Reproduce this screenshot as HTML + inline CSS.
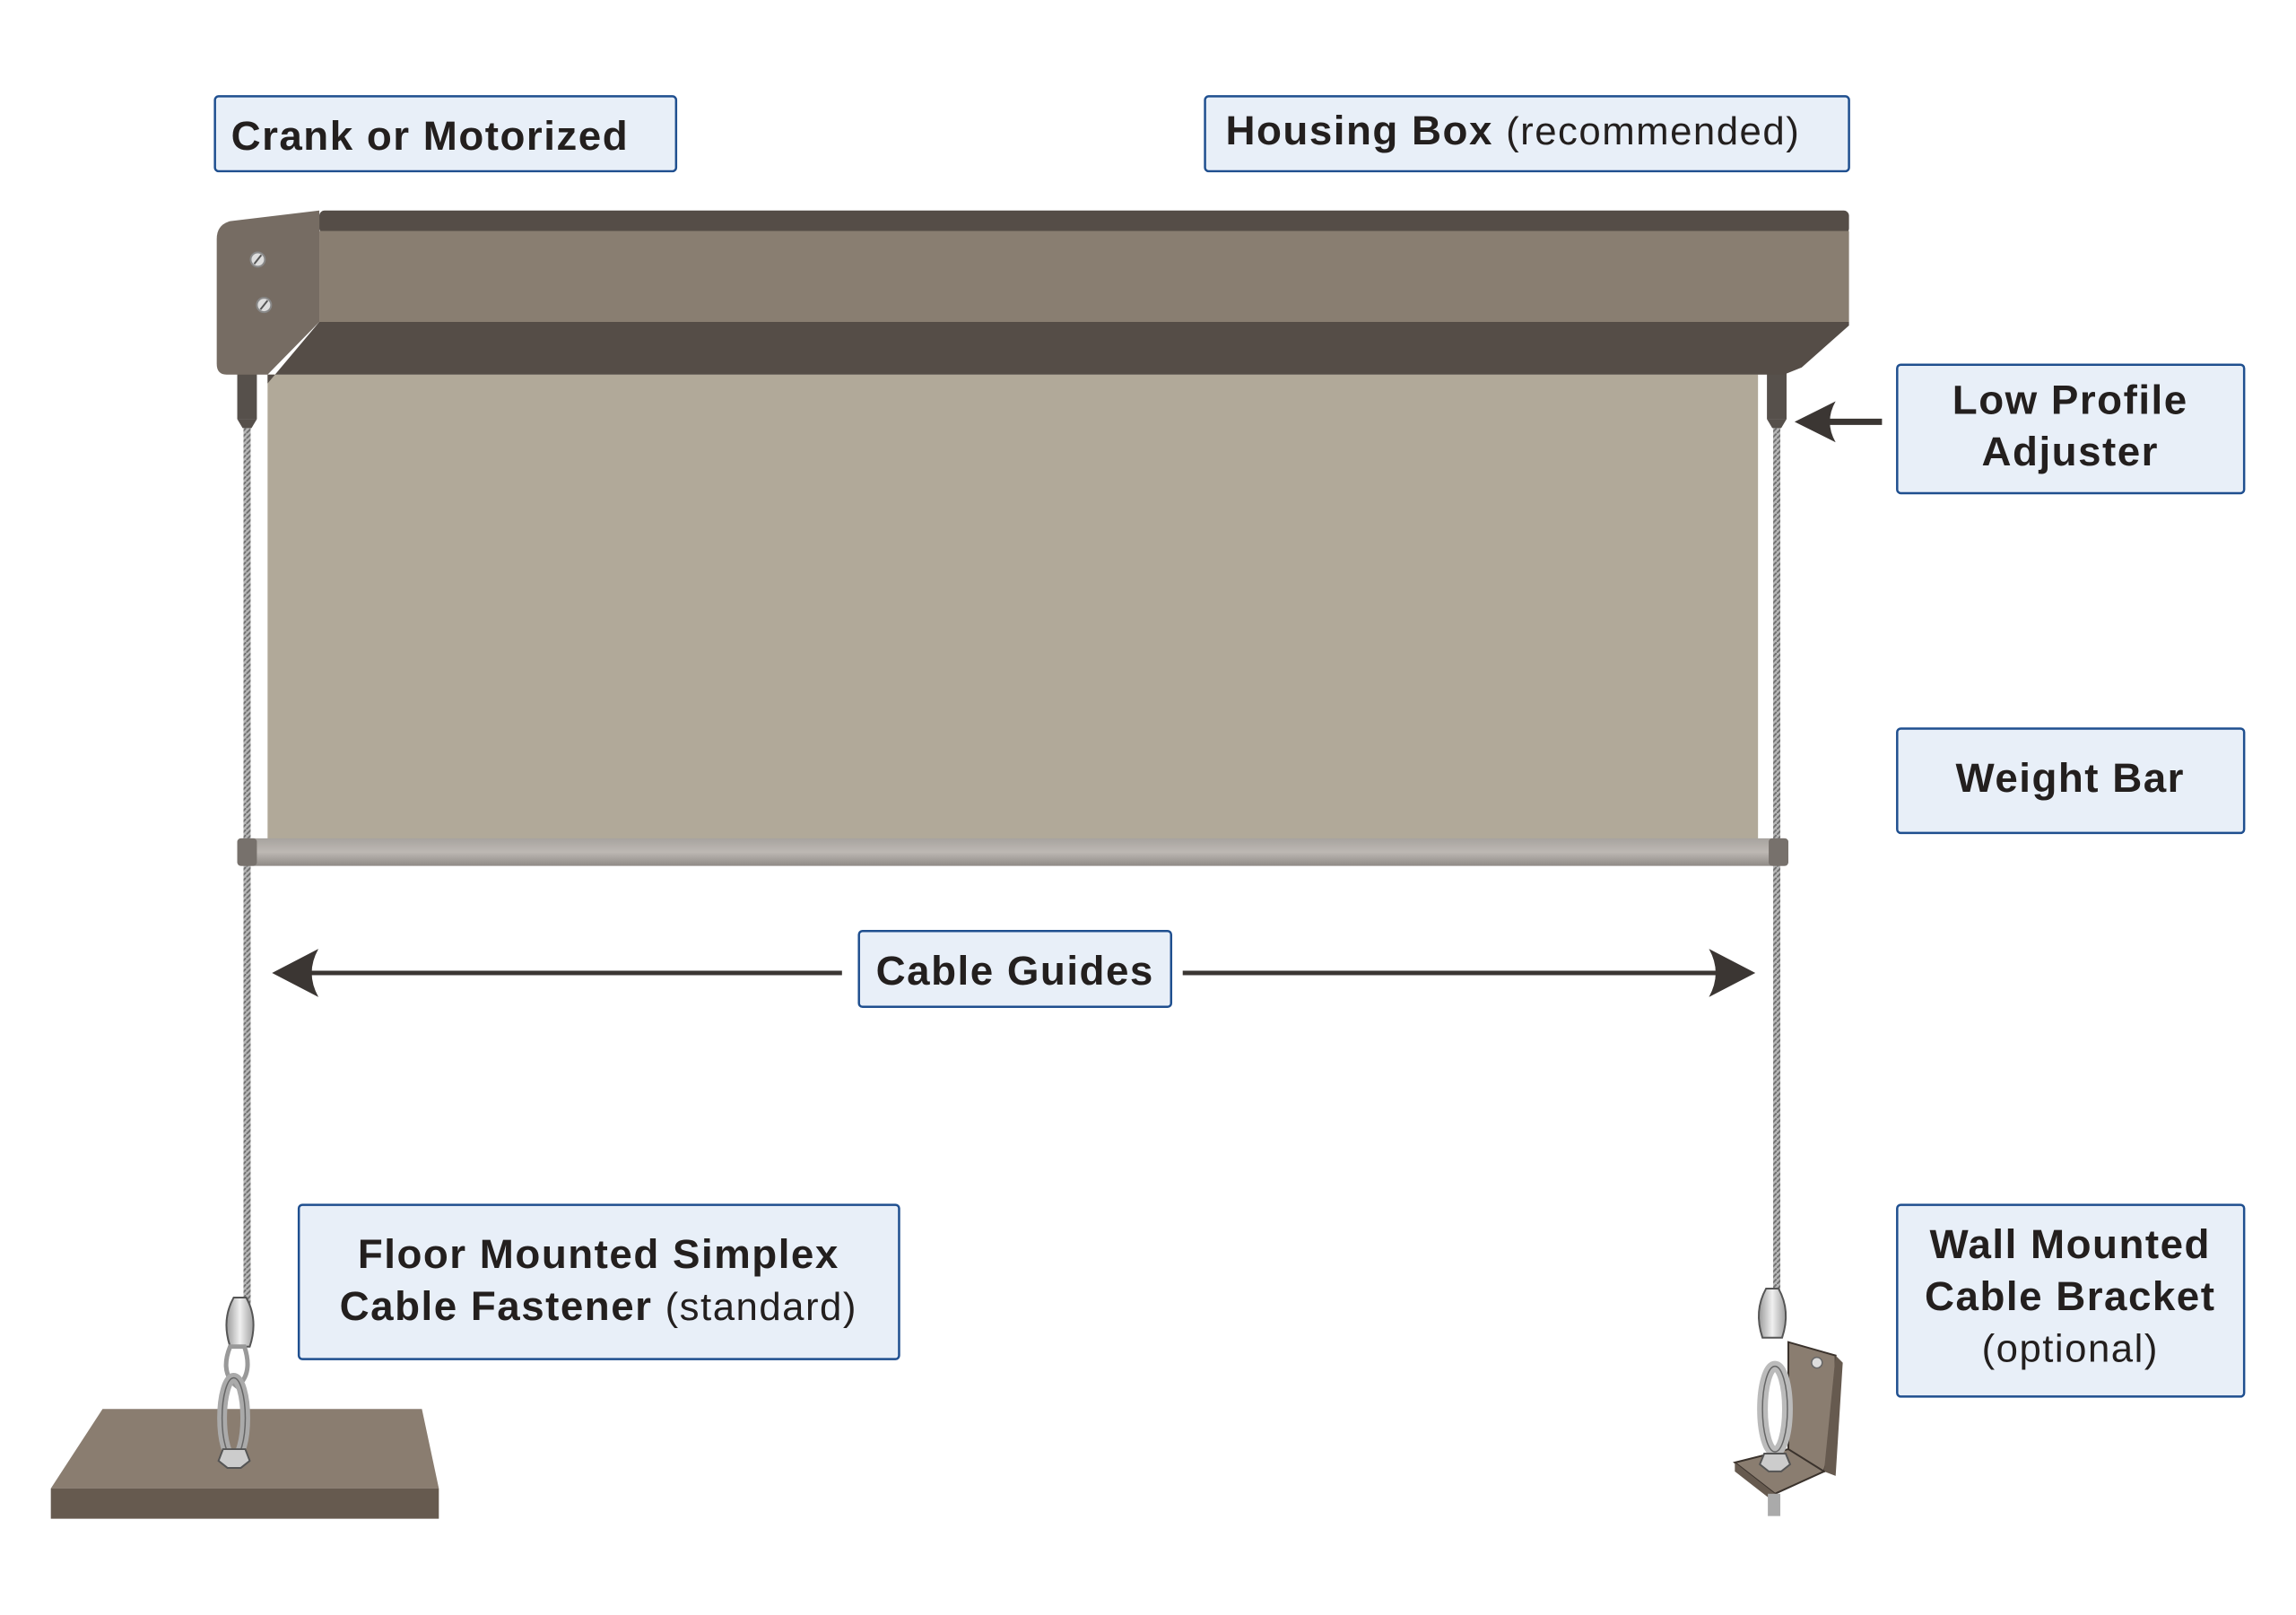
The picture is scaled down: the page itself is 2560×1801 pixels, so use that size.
<!DOCTYPE html>
<html><head><meta charset="utf-8"><style>
html,body{margin:0;padding:0;background:#fff;}
svg{display:block;}
text{font-family:"Liberation Sans",sans-serif;font-weight:bold;fill:#231f1e;letter-spacing:1.5px;}
.n{font-weight:normal;}
</style></head><body>
<svg width="2560" height="1801" viewBox="0 0 2560 1801" xmlns="http://www.w3.org/2000/svg">
<defs>
<linearGradient id="wb" x1="0" y1="0" x2="0" y2="1">
<stop offset="0" stop-color="#a7a39f"/><stop offset="0.5" stop-color="#bdb8b3"/><stop offset="1" stop-color="#8f8a86"/></linearGradient>
<linearGradient id="met" x1="0" y1="0" x2="1" y2="0">
<stop offset="0" stop-color="#9a9a9a"/><stop offset="0.5" stop-color="#f0f0f0"/><stop offset="1" stop-color="#a0a0a0"/></linearGradient>
<pattern id="cab" width="6" height="6" patternUnits="userSpaceOnUse"><rect width="6" height="6" fill="#b8b8b8"/><line x1="0" y1="6" x2="6" y2="0" stroke="#707070" stroke-width="2"/></pattern>
</defs>
<g transform="scale(0.9945)">
<!-- labels -->
<rect x="241" y="108" width="517" height="84" rx="4" fill="#e8eff8" stroke="#1f4f8f" stroke-width="2.5"/>
<text x="259" y="168" font-size="46">Crank or Motorized</text>

<rect x="1351" y="108" width="722" height="84" rx="4" fill="#e8eff8" stroke="#1f4f8f" stroke-width="2.5"/>
<text x="1374" y="162" font-size="46">Housing Box <tspan class="n" font-size="44">(recommended)</tspan></text>

<rect x="2127" y="409" width="389" height="144" rx="4" fill="#e8eff8" stroke="#1f4f8f" stroke-width="2.5"/>
<text x="2321" y="464" font-size="46" text-anchor="middle">Low Profile</text>
<text x="2321" y="522" font-size="46" text-anchor="middle">Adjuster</text>

<rect x="2127" y="817" width="389" height="117" rx="4" fill="#e8eff8" stroke="#1f4f8f" stroke-width="2.5"/>
<text x="2321" y="888" font-size="46" text-anchor="middle">Weight Bar</text>

<rect x="963" y="1044" width="350" height="85" rx="4" fill="#e8eff8" stroke="#1f4f8f" stroke-width="2.5"/>
<text x="1138" y="1104" font-size="46" text-anchor="middle">Cable Guides</text>

<rect x="335" y="1351" width="673" height="173" rx="4" fill="#e8eff8" stroke="#1f4f8f" stroke-width="2.5"/>
<text x="671" y="1422" font-size="46" text-anchor="middle">Floor Mounted Simplex</text>
<text x="671" y="1480" font-size="46" text-anchor="middle">Cable Fastener <tspan class="n" font-size="44">(standard)</tspan></text>

<rect x="2127" y="1351" width="389" height="215" rx="4" fill="#e8eff8" stroke="#1f4f8f" stroke-width="2.5"/>
<text x="2321" y="1411" font-size="46" text-anchor="middle">Wall Mounted</text>
<text x="2321" y="1469" font-size="46" text-anchor="middle">Cable Bracket</text>
<text x="2321" y="1527" font-size="44" text-anchor="middle" class="n">(optional)</text>

<!-- fabric -->
<rect x="300" y="420" width="1671" height="522" fill="#b1a999"/>
<!-- cables -->
<rect x="273" y="470" width="8" height="1000" fill="url(#cab)"/>
<rect x="1988" y="470" width="8" height="980" fill="url(#cab)"/>
<!-- adjusters -->
<rect x="266" y="418" width="22" height="52" fill="#56504b"/>
<rect x="1981" y="418" width="22" height="52" fill="#56504b"/>
<polygon points="266,470 288,470 282,480 272,480" fill="#56504b"/>
<polygon points="1981,470 2003,470 1997,480 1987,480" fill="#56504b"/>

<!-- housing -->
<rect x="358" y="236" width="1715" height="26" rx="6" fill="#554d47"/>
<rect x="358" y="259" width="1715" height="102" fill="#897e71"/>
<polygon points="358,361 2073,361 2073,365 2020,412 2000,420 300,420 300,430 358,361" fill="#554d47"/>
<path d="M258,248 L358,236 L358,361 L300,420 L254,420 Q243,420 243,408 L243,268 Q243,252 258,248 Z" fill="#766c63"/>
<circle cx="289" cy="291" r="8" fill="#ddd" stroke="#888" stroke-width="2"/><line x1="285" y1="296" x2="293" y2="286" stroke="#555" stroke-width="2"/>
<circle cx="296" cy="342" r="8" fill="#ddd" stroke="#888" stroke-width="2"/><line x1="292" y1="347" x2="300" y2="337" stroke="#555" stroke-width="2"/>

<!-- weight bar -->
<rect x="266" y="940" width="1739" height="31" rx="5" fill="url(#wb)"/>
<rect x="266" y="940" width="22" height="31" rx="4" fill="#77716c"/>
<rect x="1983" y="940" width="22" height="31" rx="4" fill="#77716c"/>

<!-- arrows -->
<line x1="2110" y1="473" x2="2035" y2="473" stroke="#3b3633" stroke-width="7"/>
<path d="M2012,473 L2058,450 Q2045,473 2058,496 Z" fill="#3b3633"/>
<line x1="944" y1="1091" x2="330" y2="1091" stroke="#3b3633" stroke-width="5"/>
<path d="M305,1091 L357,1064 Q342,1091 357,1118 Z" fill="#3b3633"/>
<line x1="1326" y1="1091" x2="1945" y2="1091" stroke="#3b3633" stroke-width="5"/>
<path d="M1968,1091 L1916,1064 Q1931,1091 1916,1118 Z" fill="#3b3633"/>

<!-- floor plate -->
<polygon points="115,1580 473,1580 492,1669 57,1669" fill="#8a7d70"/>
<rect x="57" y="1669" width="435" height="34" fill="#665a4f"/>
<!-- floor fastener -->
<path d="M262,1455 q-14,25 -4,55 l22,0 q10,-30 -4,-55 z" fill="url(#met)" stroke="#555" stroke-width="2"/>
<path d="M258,1510 q-12,30 8,45 q18,-15 8,-45 z" fill="none" stroke="#999" stroke-width="5"/>
<ellipse cx="262" cy="1590" rx="13" ry="45" fill="none" stroke="#aaa" stroke-width="11"/>
<ellipse cx="262" cy="1590" rx="13" ry="45" fill="none" stroke="#666" stroke-width="1.5"/>
<polygon points="250,1625 275,1625 280,1638 270,1646 255,1646 245,1638" fill="#ccc" stroke="#555" stroke-width="2"/>

<!-- wall bracket -->
<polygon points="2005,1505 2058,1520 2058,1600 2045,1650 2005,1640" fill="#8a7d70" stroke="#3a322c" stroke-width="2"/>
<polygon points="2058,1520 2066,1528 2058,1655 2045,1650" fill="#665a4f"/>
<polygon points="1945,1640 2005,1625 2045,1650 1990,1675" fill="#8a7d70" stroke="#3a322c" stroke-width="2"/>
<polygon points="1945,1640 1990,1675 1990,1685 1945,1650" fill="#665a4f"/>
<circle cx="2037" cy="1528" r="6" fill="#ddd" stroke="#666" stroke-width="1.5"/>
<rect x="1982" y="1675" width="14" height="25" fill="#aaa"/>
<path d="M1980,1445 q-14,25 -4,55 l22,0 q10,-30 -4,-55 z" fill="url(#met)" stroke="#555" stroke-width="2"/>
<ellipse cx="1990" cy="1580" rx="14" ry="48" fill="none" stroke="#bbb" stroke-width="12"/>
<ellipse cx="1990" cy="1580" rx="14" ry="48" fill="none" stroke="#666" stroke-width="1.5"/>
<polygon points="1978,1630 2002,1630 2007,1642 1997,1650 1983,1650 1973,1642" fill="#ccc" stroke="#555" stroke-width="2"/>
</g>
</svg>
</body></html>
